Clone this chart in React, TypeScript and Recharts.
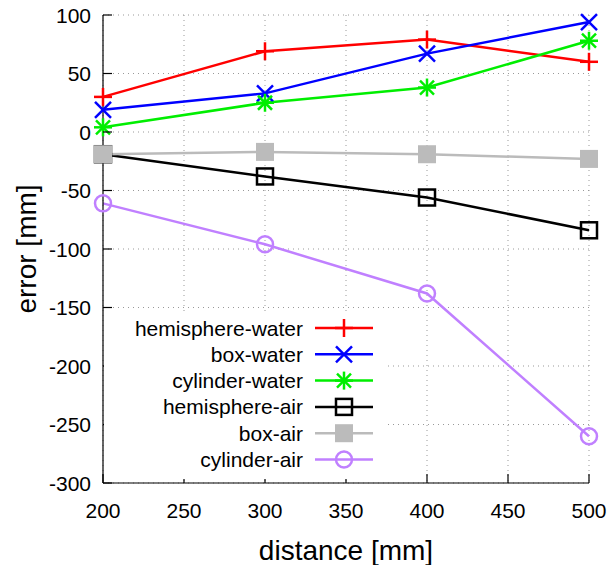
import { CartesianGrid, Line, LineChart, XAxis, YAxis } from 'recharts';

const distances = [200, 300, 400, 500];
const hemisphereWater = [30, 69, 79, 60];
const boxWater = [19, 33, 67, 94];
const cylinderWater = [4, 25, 38, 78];
const hemisphereAir = [-19, -38, -56, -84];
const boxAir = [-19, -17, -19, -23];
const cylinderAir = [-61, -96, -138, -260];

const xTicks = [200, 250, 300, 350, 400, 450, 500];
const yTicks = [-300, -250, -200, -150, -100, -50, 0, 50, 100];

type Shape = 'plus' | 'cross' | 'star' | 'box' | 'filledBox' | 'circle';

const series: { key: string; name: string; values: number[]; color: string; shape: Shape }[] = [
  { key: 'hw', name: 'hemisphere-water', values: hemisphereWater, color: '#ff0000', shape: 'plus' },
  { key: 'bw', name: 'box-water', values: boxWater, color: '#0000ff', shape: 'cross' },
  { key: 'cw', name: 'cylinder-water', values: cylinderWater, color: '#00ee00', shape: 'star' },
  { key: 'ha', name: 'hemisphere-air', values: hemisphereAir, color: '#000000', shape: 'box' },
  { key: 'ba', name: 'box-air', values: boxAir, color: '#bbbbbb', shape: 'filledBox' },
  { key: 'ca', name: 'cylinder-air', values: cylinderAir, color: '#c080ff', shape: 'circle' },
];

const data = distances.map((d, i) => {
  const row: Record<string, number> = { distance: d };
  series.forEach((s) => (row[s.key] = s.values[i]));
  return row;
});

const FONT = '"Liberation Sans", Arial, sans-serif';

function Marker({ shape, cx, cy, color }: { shape: Shape; cx: number; cy: number; color: string }) {
  const sw = 2.5;
  switch (shape) {
    case 'plus':
      return (
        <g stroke={color} strokeWidth={sw}>
          <line x1={cx - 9} y1={cy} x2={cx + 9} y2={cy} />
          <line x1={cx} y1={cy - 9} x2={cx} y2={cy + 9} />
        </g>
      );
    case 'cross':
      return (
        <g stroke={color} strokeWidth={sw}>
          <line x1={cx - 8} y1={cy - 8} x2={cx + 8} y2={cy + 8} />
          <line x1={cx - 8} y1={cy + 8} x2={cx + 8} y2={cy - 8} />
        </g>
      );
    case 'star':
      return (
        <g stroke={color} strokeWidth={sw}>
          <line x1={cx - 9} y1={cy} x2={cx + 9} y2={cy} />
          <line x1={cx} y1={cy - 9} x2={cx} y2={cy + 9} />
          <line x1={cx - 7} y1={cy - 7} x2={cx + 7} y2={cy + 7} />
          <line x1={cx - 7} y1={cy + 7} x2={cx + 7} y2={cy - 7} />
        </g>
      );
    case 'box':
      return <rect x={cx - 8} y={cy - 8} width={16} height={16} fill="none" stroke={color} strokeWidth={sw} />;
    case 'filledBox':
      return <rect x={cx - 9} y={cy - 9} width={18} height={18} fill={color} />;
    default:
      return <circle cx={cx} cy={cy} r={8} fill="none" stroke={color} strokeWidth={sw} />;
  }
}

function LegendBox() {
  return (
    <svg width={282} height={168} style={{ display: 'block' }}>
      <rect x={0} y={0} width={282} height={168} fill="#fff" />
      {series.map((s, i) => {
        const y = 17 + i * 26.3;
        return (
          <g key={s.key}>
            <text x={199} y={y} textAnchor="end" dominantBaseline="central" fontSize={21} fontFamily={FONT} fill="#000">
              {s.name}
            </text>
            <line x1={211} y1={y} x2={269} y2={y} stroke={s.color} strokeWidth={2.5} />
            <Marker shape={s.shape} cx={240} cy={y} color={s.color} />
          </g>
        );
      })}
    </svg>
  );
}

export default function App() {
  return (
    <div style={{ position: 'absolute', left: 0, top: -2, width: 611, height: 567 }}>
      <LineChart width={611} height={567} data={data} margin={{ top: 17, right: 22, left: 0, bottom: 0 }}>
        <CartesianGrid stroke="#999" strokeDasharray="1 4" />
        <XAxis
          dataKey="distance"
          type="number"
          domain={[200, 500]}
          ticks={xTicks}
          height={82}
          tickSize={0}
          tickMargin={0}
          axisLine={{ stroke: '#000', strokeWidth: 1.2 }}
          tickLine={false}
          tick={(p: any) => (
            <g key={`xb-${p.payload.value}`}>
              <line x1={p.x} y1={p.y} x2={p.x} y2={p.y - 9} stroke="#000" strokeWidth={1.2} />
              <text x={p.x} y={p.y + 27} textAnchor="middle" dominantBaseline="central" fontSize={21} fontFamily={FONT} fill="#000">
                {p.payload.value}
              </text>
            </g>
          )}
          label={{
            content: () => (
              <text x={346} y={552} textAnchor="middle" dominantBaseline="central" fontSize={28} fontFamily={FONT} fill="#000">
                distance [mm]
              </text>
            ),
          }}
        />
        <XAxis
          xAxisId="top"
          orientation="top"
          type="number"
          dataKey="distance"
          domain={[200, 500]}
          ticks={xTicks}
          height={0}
          tickSize={0}
          tickMargin={0}
          axisLine={{ stroke: '#000', strokeWidth: 1.2 }}
          tickLine={false}
          tick={(p: any) => (
            <line key={`xt-${p.payload.value}`} x1={p.x} y1={p.y} x2={p.x} y2={p.y + 9} stroke="#000" strokeWidth={1.2} />
          )}
        />
        <YAxis
          type="number"
          domain={[-300, 100]}
          ticks={yTicks}
          width={103}
          tickSize={0}
          tickMargin={0}
          axisLine={{ stroke: '#000', strokeWidth: 1.2 }}
          tickLine={false}
          tick={(p: any) => (
            <g key={`yl-${p.payload.value}`}>
              <line x1={p.x} y1={p.y} x2={p.x + 9} y2={p.y} stroke="#000" strokeWidth={1.2} />
              <text x={p.x - 12} y={p.y} textAnchor="end" dominantBaseline="central" fontSize={21} fontFamily={FONT} fill="#000">
                {p.payload.value}
              </text>
            </g>
          )}
          label={{
            content: () => (
              <text
                x={26}
                y={251}
                transform="rotate(-90 26 251)"
                textAnchor="middle"
                dominantBaseline="central"
                fontSize={28}
                fontFamily={FONT}
                fill="#000"
              >
                error [mm]
              </text>
            ),
          }}
        />
        <YAxis
          yAxisId="right"
          orientation="right"
          type="number"
          domain={[-300, 100]}
          ticks={yTicks}
          width={0}
          tickSize={0}
          tickMargin={0}
          axisLine={{ stroke: '#000', strokeWidth: 1.2 }}
          tickLine={false}
          tick={(p: any) => (
            <line key={`yr-${p.payload.value}`} x1={p.x} y1={p.y} x2={p.x - 9} y2={p.y} stroke="#000" strokeWidth={1.2} />
          )}
        />
        {series.map((s) => (
          <Line
            key={s.key}
            dataKey={s.key}
            name={s.name}
            type="linear"
            stroke={s.color}
            strokeWidth={2.5}
            isAnimationActive={false}
            dot={(p: any) => <Marker key={`${s.key}-${p.index}`} shape={s.shape} cx={p.cx} cy={p.cy} color={s.color} />}
            activeDot={false}
          />
        ))}
      </LineChart>
      <div style={{ position: 'absolute', left: 104, top: 313 }}>
        <LegendBox />
      </div>
    </div>
  );
}
